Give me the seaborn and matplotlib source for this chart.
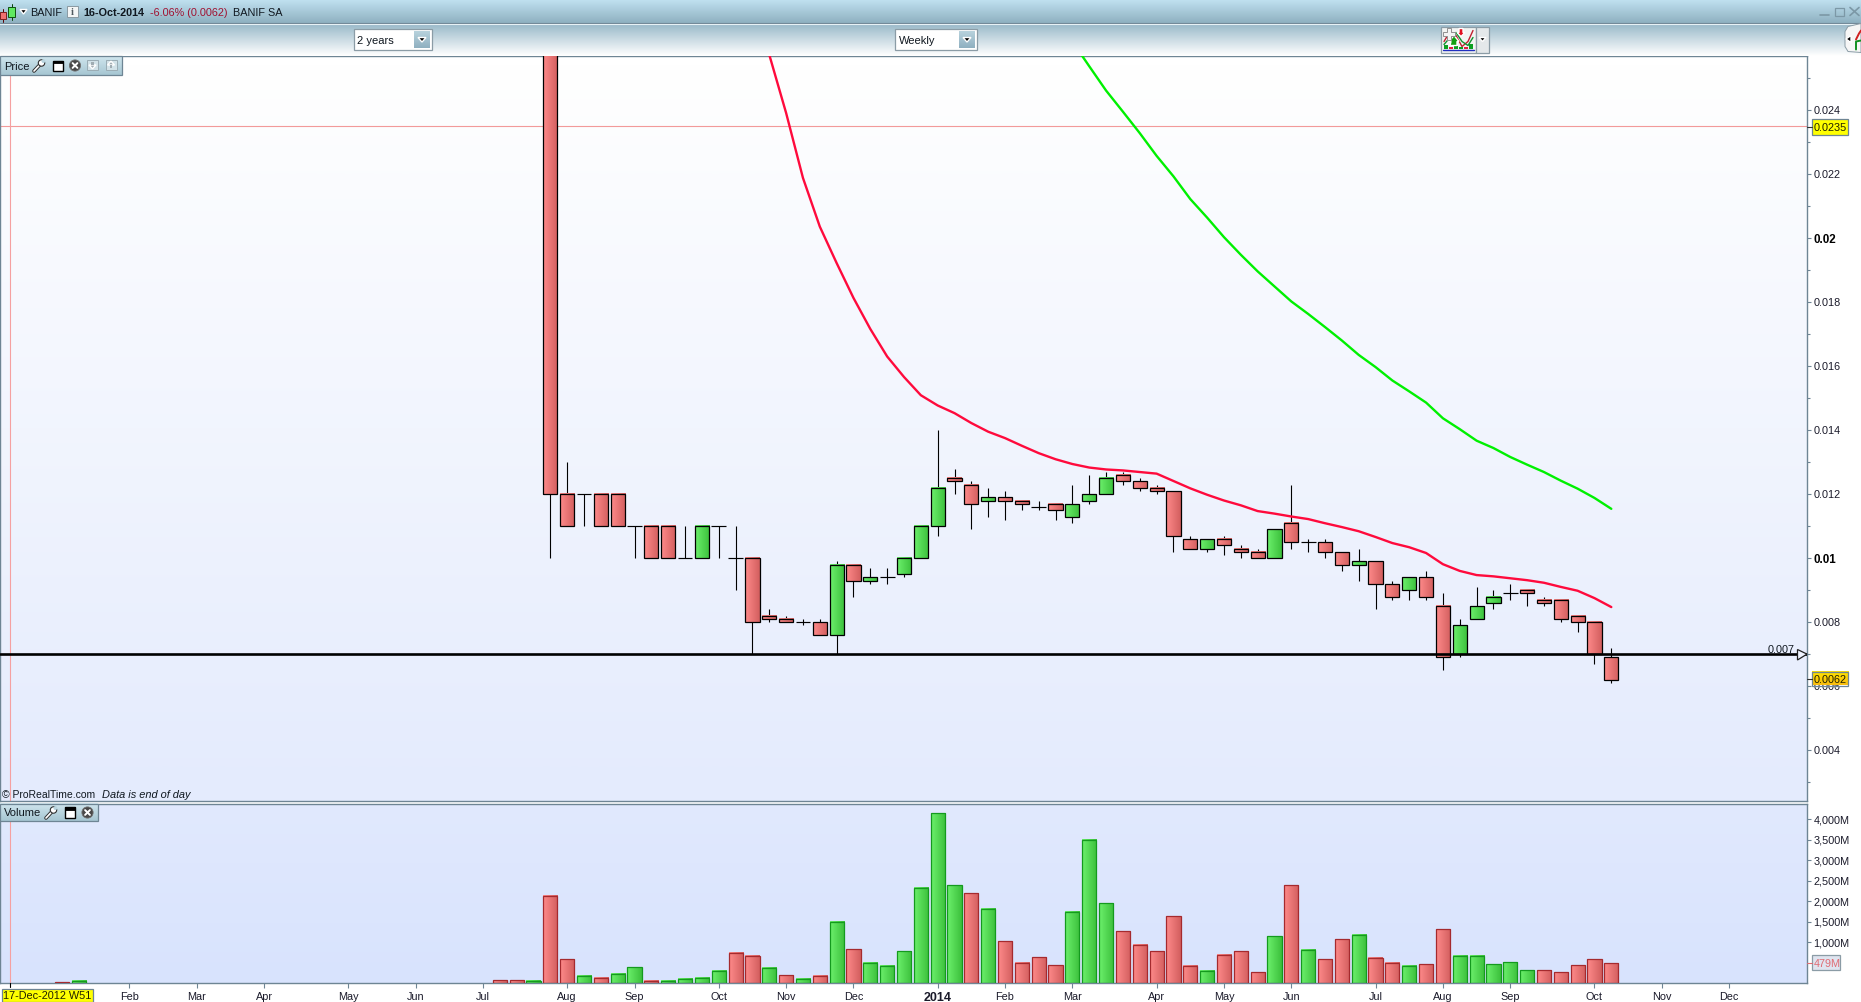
import numpy as np
import pandas as pd
import matplotlib
matplotlib.use("Agg")
import matplotlib.pyplot as plt
import seaborn as sns
from matplotlib.colors import LinearSegmentedColormap
from matplotlib.patches import Rectangle, Circle, Polygon
from matplotlib.transforms import ScaledTranslation

# weekly candles, week 0 = first candle with a price
candle_open = [.0300, .0120, .0120, .0120, .0120, .0110, .0110, .0110, .0100, .0100, .0110, .0100, .0100,
               .0082, .0081, .0080, .0080, .0076, .0098, .0093, .0094, .0095, .0100, .0110, .0125, .0123,
               .0118, .0119, .0118, .0116, .0117, .0113, .0118, .0120, .0126, .0124, .0122, .0121, .0106,
               .0103, .0106, .0103, .0102, .0100, .0111, .0105, .0105, .0102, .0098, .0099, .0092, .0090,
               .0094, .0085, .0070, .0081, .0086, .0089, .0090, .0087, .0087, .0082, .0080, .0069]
candle_high = [.0310, .0130, .0120, .0120, .0120, .0110, .0110, .0110, .0110, .0110, .0110, .0110, .0100,
               .0084, .0082, .0081, .0081, .0099, .0098, .0097, .0097, .0100, .0110, .0140, .0128, .0124,
               .0122, .0121, .0118, .0118, .0117, .0123, .0126, .0127, .0127, .0125, .0123, .0121, .0107,
               .0106, .0107, .0104, .0103, .0109, .0123, .0106, .0106, .0102, .0103, .0099, .0093, .0094,
               .0096, .0089, .0081, .0091, .0090, .0092, .0090, .0088, .0087, .0082, .0080, .0072]
candle_low = [.0100, .0110, .0110, .0110, .0110, .0100, .0100, .0100, .0100, .0100, .0100, .0090, .0070,
              .0080, .0080, .0079, .0076, .0070, .0088, .0092, .0092, .0094, .0100, .0107, .0120, .0109,
              .0113, .0112, .0115, .0115, .0112, .0111, .0117, .0120, .0123, .0121, .0120, .0102, .0103,
              .0102, .0101, .0100, .0100, .0100, .0103, .0102, .0100, .0096, .0093, .0084, .0087, .0087,
              .0087, .0065, .0069, .0081, .0084, .0087, .0085, .0085, .0080, .0077, .0067, .0061]
candle_close = [.0120, .0110, .0120, .0110, .0110, .0110, .0100, .0100, .0100, .0110, .0110, .0100, .0080,
                .0081, .0080, .0080, .0076, .0098, .0093, .0094, .0094, .0100, .0110, .0122, .0124, .0117,
                .0119, .0118, .0117, .0116, .0115, .0117, .0120, .0125, .0124, .0122, .0121, .0107, .0103,
                .0106, .0104, .0102, .0100, .0109, .0105, .0105, .0102, .0098, .0099, .0092, .0088, .0094,
                .0088, .0069, .0079, .0085, .0088, .0089, .0089, .0086, .0081, .0080, .0070, .0062]

red_ma_weeks = list(range(13, 64))
red_ma = [.02573, .02391, .02188, .02036, .01922, .01813, .01716, .01630, .01566, .01509, .01477, .01453,
          .01422, .01395, .01375, .01351, .01328, .01309, .01294, .01283, .01277, .01274, .01269, .01264,
          .01241, .01218, .01198, .01180, .01165, .01147, .01139, .01130, .01122, .01109, .01097, .01084,
          .01066, .01047, .01034, .01016, .00981, .00960, .00947, .00943, .00937, .00931, .00923, .00910,
          .00898, .00875, .00847]
green_ma_weeks = list(range(31, 64))
green_ma = [.02614, .02537, .02461, .02395, .02328, .02257, .02193, .02122, .02064, .02003, .01948, .01896,
            .01849, .01802, .01763, .01722, .01680, .01635, .01597, .01555, .01521, .01486, .01437, .01403,
            .01367, .01344, .01316, .01292, .01269, .01242, .01217, .01188, .01154]

volume_weeks = [-29, -28, -3, -2, -1] + list(range(0, 64))
volume = [24, 49, 73, 73, 49,
          2122, 585, 171, 122, 220, 390, 49, 49, 98, 122, 293, 732, 659, 366, 195, 98, 171, 1488, 829, 488,
          415, 780, 2317, 4146, 2390, 2195, 1805, 1024, 488, 634, 439, 1732, 3488, 1951, 1268, 927, 780, 1634,
          415, 293, 683, 780, 268, 1146, 2390, 805, 585, 1073, 1171, 610, 488, 415, 463, 1317, 659, 659, 463,
          512, 317, 317, 268, 439, 585, 479]
volume_dir = ["down", "up", "down", "down", "up",
              "down", "down", "up", "down", "up", "up", "down", "up", "up", "up", "up", "down", "down", "up",
              "down", "up", "down", "up", "down", "up", "up", "up", "up", "up", "up", "down", "up", "down",
              "down", "down", "down", "up", "up", "up", "down", "down", "down", "down", "down", "up", "down",
              "down", "down", "up", "down", "up", "down", "down", "up", "down", "down", "up", "down", "down",
              "up", "up", "up", "up", "up", "down", "down", "down", "down", "down"]

month_ticks = [-25, -21, -17, -12, -8, -4, 1, 5, 10, 14, 18, 23, 27, 31, 36, 40, 44, 49, 53, 57, 62, 66, 70]
month_labels = ["Feb", "Mar", "Apr", "May", "Jun", "Jul", "Aug", "Sep", "Oct", "Nov", "Dec", "2014",
                "Feb", "Mar", "Apr", "May", "Jun", "Jul", "Aug", "Sep", "Oct", "Nov", "Dec"]
price_ticks = [.024, .022, .020, .018, .016, .014, .012, .010, .008, .006, .004]
price_labels = ["0.024", "0.022", "0.02", "0.018", "0.016", "0.014", "0.012", "0.01", "0.008", "0.006", "0.004"]
price_minor = [.025, .023, .021, .019, .017, .015, .013, .011, .009, .007, .005, .003]
volume_ticks = [1000, 1500, 2000, 2500, 3000, 3500, 4000]
volume_labels = ["1,000M", "1,500M", "2,000M", "2,500M", "3,000M", "3,500M", "4,000M"]

W, H = 1861, 1003
BORDER = "#6e8594"

sns.set_style("white")
plt.rcParams["font.family"] = ["Liberation Sans", "DejaVu Sans"]
plt.rcParams["font.size"] = 7.8

fig = plt.figure(figsize=(W / 100, H / 100), dpi=100, facecolor="white")


def axes_px(left, top, right, bottom):
    return fig.add_axes([left / W, 1 - bottom / H, (right - left) / W, (bottom - top) / H])


def grad(ax, x0, x1, y0, y1, c0, c1, vertical=False, z=1, **kw):
    cm = LinearSegmentedColormap.from_list("g", [c0, c1])
    arr = np.linspace(0, 1, 64)
    arr = arr.reshape(-1, 1) if vertical else arr.reshape(1, -1)
    return ax.imshow(arr, extent=(x0, x1, y0, y1), aspect="auto", cmap=cm, vmin=0, vmax=1,
                     zorder=z, interpolation="bilinear", **kw)


ax_p = axes_px(0, 56.8, 1807, 801.8)
ax_v = axes_px(0, 804.8, 1807, 984.1)
x_range = (-32.68, 74.62)
price_range = (0.002416, 0.025697)
vol_range = (0, 4373)

for ax, top_c, bot_c in [(ax_p, "#ffffff", "#e4ebfd"), (ax_v, "#e1e9fe", "#d8e3fd")]:
    ax.set_autoscale_on(False)
    grad(ax, 0, 1, 0, 1, top_c, bot_c, vertical=True, z=0, transform=ax.transAxes)

# candles
weeks = np.arange(len(candle_open))
o, h, l, c = map(np.array, (candle_open, candle_high, candle_low, candle_close))
ax_p.vlines(weeks, l, h, color="black", lw=0.8, zorder=2)
ax_p.set_xlim(x_range)
ax_p.set_ylim(price_range)
for w, op, cl in zip(weeks, o, c):
    if op == cl:
        ax_p.hlines(op, w - 0.44, w + 0.44, color="black", lw=0.85, zorder=3)
        continue
    ax_p.bar(w, abs(cl - op), 0.84, bottom=min(op, cl), facecolor="none", edgecolor="black",
             linewidth=0.9, zorder=4)
    left_c, right_c = ("#6cf06c", "#3cc03c") if cl > op else ("#ff8a8a", "#d25f5f")
    grad(ax_p, w - 0.42, w + 0.42, min(op, cl), max(op, cl), left_c, right_c, z=3)

sns.lineplot(x=red_ma_weeks, y=red_ma, color="#ff0a3c", lw=1.7, ax=ax_p, estimator=None, zorder=5)
sns.lineplot(x=green_ma_weeks, y=green_ma, color="#00f000", lw=1.7, ax=ax_p, estimator=None, zorder=5)

# level line and crosshair
ax_p.axhline(0.007, color="black", lw=1.9, zorder=6)
ax_p.axhline(0.0235, color="#f29a9a", lw=0.8, zorder=1)
ax_p.axvline(-32.08, color="#f5a0a0", lw=0.8, zorder=1)
ax_v.axvline(-32.08, color="#f5a0a0", lw=0.8, zorder=1)

# volume
vol_df = pd.DataFrame({"week": volume_weeks, "volume": volume, "dir": volume_dir})
sns.barplot(data=vol_df, x="week", y="volume", hue="dir", hue_order=["up", "down"],
            palette={"up": "#52dc52", "down": "#f07878"}, native_scale=True, dodge=False,
            width=0.84, saturation=1, legend=False, ax=ax_v, zorder=3)
for cont, edge, left_c, right_c in zip(ax_v.containers, ["#149a1e", "#a52a2e"],
                                       ["#6cf06c", "#ff8a8a"], ["#3cc03c", "#d25f5f"]):
    for bar in cont:
        bar.set_edgecolor(edge)
        bar.set_linewidth(0.9)
        bar.set_facecolor("none")
        bx, by = bar.get_x(), bar.get_y()
        grad(ax_v, bx, bx + bar.get_width(), by, by + bar.get_height(), left_c, right_c, z=2.5)

ax_v.set_xlim(x_range)
ax_v.set_ylim(vol_range)
ax_v.set_xlabel("")
ax_v.set_ylabel("")

for ax in (ax_p, ax_v):
    for sp in ax.spines.values():
        sp.set_visible(True)
        sp.set_color(BORDER)
        sp.set_linewidth(1.0)
    ax.yaxis.tick_right()

ax_p.set_xticks([])
ax_p.set_yticks(price_ticks)
ax_p.set_yticklabels(price_labels)
ax_p.set_yticks(price_minor, minor=True)
ax_p.tick_params(axis="y", which="major", right=True, length=3, width=0.8, color=BORDER, pad=1.5,
                 labelsize=7.8, labelcolor="#1a1a2a")
ax_p.tick_params(axis="y", which="minor", right=True, length=2.2, width=0.8, color=BORDER)
for lab in ax_p.get_yticklabels():
    if lab.get_text() in ("0.02", "0.01"):
        lab.set_fontweight("bold")
        lab.set_fontsize(8.4)
        lab.set_color("black")

ax_v.set_yticks(volume_ticks)
ax_v.set_yticklabels(volume_labels)
ax_v.tick_params(axis="y", right=True, length=3, width=0.8, color=BORDER, pad=1.5, labelsize=7.8,
                 labelcolor="#1a1a2a")
ax_v.set_xticks(month_ticks)
ax_v.set_xticklabels(month_labels)
ax_v.tick_params(axis="x", bottom=True, length=3.6, width=0.8, color=BORDER, pad=2.2, labelsize=7.8,
                 labelcolor="#1a1a2a")
for lab in ax_v.get_xticklabels():
    if lab.get_text() == "2014":
        lab.set_fontweight("bold")
        lab.set_fontsize(9)

# y labels sit a touch above their ticks in the reference
nudge = ScaledTranslation(0, 0.9 / 100, fig.dpi_scale_trans)
for ax in (ax_p, ax_v):
    for lab in ax.get_yticklabels():
        lab.set_transform(lab.get_transform() + nudge)

# overlay in pixels for the platform window chrome
ov = fig.add_axes([0, 0, 1, 1], zorder=10)
ov.set_autoscale_on(False)
ov.set_xlim(0, W)
ov.set_ylim(H - 0.5, -0.5)
ov.axis("off")
ov.patch.set_alpha(0)


def label(x, y, s, **kw):
    kw.setdefault("va", "center")
    kw.setdefault("ha", "left")
    kw.setdefault("color", "#101820")
    kw.setdefault("fontsize", 7.8)
    kw.setdefault("zorder", 12)
    return ov.text(x, y, s, **kw)


def box(x0, y0, x1, y1, fc="none", ec=BORDER, lw=0.8, z=11, **kw):
    r = Rectangle((x0, y0), x1 - x0, y1 - y0, facecolor=fc, edgecolor=ec, linewidth=lw, zorder=z, **kw)
    ov.add_patch(r)
    return r


# title bar and toolbar
grad(ov, 0, W, 23, 0, "#bfe0ef", "#8fb1c1", vertical=True, z=1)
ov.plot([0, W], [23.5, 23.5], color="#6e8594", lw=0.8, zorder=2)
ov.plot([0, W], [24.5, 24.5], color="#e8f2f6", lw=0.8, zorder=2)
grad(ov, 0, W, 56, 25, "#9dbccb", "#ffffff", vertical=True, z=1)

# candle icon in the title bar
ov.plot([3, 3], [9, 22], color="#5a0000", lw=0.7, zorder=3)
box(0, 12.5, 6, 19.5, fc="#f07070", ec="#7a2020", lw=0.7, z=4)
ov.plot([11.5, 11.5], [4, 20], color="#064006", lw=0.7, zorder=3)
box(8, 7, 15, 17, fc="#60e860", ec="#105010", lw=0.7, z=4)
ov.add_patch(Polygon([(20, 10), (27, 10), (23.5, 14.5)], facecolor="black", zorder=4))
label(30.5, 12.5, "BANIF")
box(66.5, 6, 77.5, 17.5, fc="#f4f6f6", ec="#8a9aa2", lw=0.7)
label(72, 12, "i", ha="center", color="#505a60", fontsize=7.5, fontweight="bold", family="Liberation Serif")
label(83.5, 12.5, "16-Oct-2014", fontweight="bold")
label(150.5, 12.5, "-6.06% (0.0062)", color="#a01030")
label(233, 12.5, "BANIF SA")

ov.plot([1820, 1829], [15, 15], color="#7c98a6", lw=1.2, zorder=3)
box(1835, 8, 1844, 16, ec="#7c98a6", lw=0.9)
ov.plot([1850, 1859], [8, 16], color="#7c98a6", lw=1.2, zorder=3)
ov.plot([1850, 1859], [16, 8], color="#7c98a6", lw=1.2, zorder=3)


def combo(x0, x1, s):
    box(x0, 29.5, x1, 50.5, fc="white", ec="#8b9ca6", lw=0.9)
    grad(ov, x1 - 18, x1 - 2, 48.5, 32, "#b8d2dd", "#8fb0c0", vertical=True, z=12)
    ov.add_patch(Polygon([(x1 - 14, 38), (x1 - 6, 38), (x1 - 10, 42.5)], facecolor="black", zorder=13))
    label(x0 + 3.5, 40.5, s, fontsize=8)


combo(353.5, 432, "2 years")
combo(895, 977, "Weekly")

# indicator button
box(1440.5, 27, 1476, 53, fc="#f2f4f2", ec="#8b9ca6", lw=0.9)
box(1476, 27, 1489, 53, fc="#e4e8ea", ec="#8b9ca6", lw=0.9)
ov.add_patch(Polygon([(1479, 38), (1486, 38), (1482.5, 42)], facecolor="black", zorder=13))
for bx, bh, col in [(1444, 4, "#0aa020"), (1449, 2, "#e02040"), (1454, 3, "#0aa020"), (1459, 2, "#0aa020"),
                    (1464, 2, "#e02040"), (1469, 5, "#0aa020")]:
    box(bx, 49 - bh, bx + 4, 49, fc=col, ec="none", lw=0, z=12)
ov.plot([1443, 1474], [50, 50], color="#2030c0", lw=1.0, zorder=12)
ov.plot([1444, 1450, 1456, 1462, 1468, 1473], [42, 32, 36, 47, 42, 31], color="#c02030", lw=1.0, zorder=12)
ov.plot([1444, 1450, 1456, 1462, 1468, 1473], [45, 38, 33, 42, 46, 38], color="#109030", lw=1.0, zorder=12)
ov.add_patch(Polygon([(1450, 46), (1457, 46), (1457, 42), (1459, 42), (1454, 36), (1449, 42), (1451, 42)],
                     facecolor="#10a010", zorder=13))
ov.add_patch(Polygon([(1459, 29), (1463, 29), (1463, 33), (1465, 33), (1461, 37), (1457, 33), (1459, 33)],
                     facecolor="#e01020", zorder=13))
ov.add_patch(Polygon([(1443, 32), (1447, 32), (1447, 28), (1451, 28), (1451, 32), (1455, 32), (1455, 36),
                      (1451, 36), (1451, 40), (1447, 40), (1447, 36), (1443, 36)],
                     facecolor="#f4f4f4", edgecolor="#909090", lw=0.7, zorder=14))
# far right sync icon
ov.add_patch(Polygon([(1848, 27), (1861, 24), (1861, 53), (1848, 52), (1845, 47), (1845, 32)],
                     facecolor="#f6f6f6", edgecolor="#8b9ca6", lw=0.7, zorder=11))
ov.add_patch(Polygon([(1846, 39.5), (1851, 36), (1851, 43)], facecolor="black", zorder=12))
ov.plot([1856, 1859, 1861], [40, 34, 31], color="#d02020", lw=1.4, zorder=12)
ov.plot([1856, 1856, 1861], [50, 42, 41], color="#109020", lw=1.4, zorder=12)


def wrench(x, y):
    ov.plot([x - 5, x + 2], [y + 5.5, y - 2], color="#303030", lw=2.6, zorder=13, solid_capstyle="round")
    ov.plot([x - 5, x + 2], [y + 5.5, y - 2], color="white", lw=1.2, zorder=14, solid_capstyle="round")
    ov.add_patch(Circle((x + 2.5, y - 2.5), 3.2, facecolor="white", edgecolor="#303030", lw=0.8, zorder=14))
    ov.add_patch(Circle((x + 4.4, y - 4.4), 1.9, facecolor="#b8d4de", edgecolor="none", zorder=15))


def window_icon(x, y):
    box(x - 4.5, y - 5, x + 5, y + 5.5, fc="white", ec="black", lw=1.0, z=13)
    box(x - 4.5, y - 5, x + 5, y - 2.5, fc="black", ec="black", lw=0.6, z=14)


def close_icon(x, y):
    ov.add_patch(Circle((x, y), 5.6, facecolor="#484848", edgecolor="#707070", lw=0.6, zorder=13))
    ov.plot([x - 2.4, x + 2.4], [y - 2.4, y + 2.4], color="white", lw=1.4, zorder=14)
    ov.plot([x - 2.4, x + 2.4], [y + 2.4, y - 2.4], color="white", lw=1.4, zorder=14)


def arrow_icon(x, y, up):
    box(x - 5.5, y - 5, x + 5.5, y + 5, fc="#d2e2e8", ec="#9aacb4", lw=0.7, z=13)
    s = -1 if up else 1
    ov.add_patch(Polygon([(x - 3.5, y), (x + 3.5, y), (x, y + s * 3.8)], facecolor="#a0acb2", zorder=14))
    box(x - 1.2, y - s * 3, x + 1.2, y, fc="#a0acb2", ec="none", lw=0, z=14)


# price panel tag
grad(ov, 0, 122, 75, 56.5, "#d0e6ee", "#a6c6d2", vertical=True, z=11)
box(0, 56.5, 122, 75, ec=BORDER, lw=0.9)
label(4, 66, "Price", fontsize=8)
wrench(39, 66)
window_icon(57.5, 66)
close_icon(75, 66)
arrow_icon(92.5, 65.5, False)
arrow_icon(111, 65.5, True)

# volume panel tag
grad(ov, 0, 98, 822, 804.5, "#d0e6ee", "#a6c6d2", vertical=True, z=11)
box(0, 804.5, 98, 822, ec=BORDER, lw=0.9)
label(4, 813, "Volume", fontsize=8)
wrench(51, 813)
window_icon(69.5, 813)
close_icon(87.5, 813)

label(2.5, 795, "\u00a9 ProRealTime.com", fontsize=7.5)
label(101.5, 795, "Data is end of day", fontsize=7.9, style="italic")

# right hand value boxes
box(1811.5, 119.5, 1848, 135, fc="#ffff00", ec=BORDER, lw=0.9)
label(1813.5, 127.3, "0.0235", color="#202000")
ov.plot([1807, 1811.5], [127, 127], color="#303030", lw=0.8, zorder=12)
grad(ov, 1811.5, 1848, 686, 672, "#ffe400", "#f8bc10", vertical=True, z=11)
box(1811.5, 672, 1848, 686, ec=BORDER, lw=0.9, z=12)
label(1813.5, 679.3, "0.0062", color="#202000", zorder=13)
ov.plot([1807, 1811.5], [679.5, 679.5], color="#303030", lw=0.8, zorder=12)
box(1811.5, 955.5, 1840, 970.5, fc="#dfe4ef", ec="#8b9ca6", lw=0.9)
label(1813.5, 963.2, "479M", color="#e06c74")
ov.plot([1807, 1811.5], [963.3, 963.3], color="#e06c74", lw=0.8, zorder=12)

label(1795, 649.5, "0.007", ha="right")
ov.add_patch(Polygon([(1797.5, 650), (1807, 654.6), (1797.5, 660.5)], facecolor="#f0f4ff", edgecolor="#202020",
                     lw=0.9, zorder=13))

# date flag
box(1.5, 989.5, 93, 1002.5, fc="#ffff00", ec=BORDER, lw=0.9)
label(47, 996, "17-Dec-2012 W51", ha="center", color="#202000")
ov.plot([10, 10], [983.5, 988], color="black", lw=0.8, zorder=12)

fig.savefig("out.png", dpi=100)
